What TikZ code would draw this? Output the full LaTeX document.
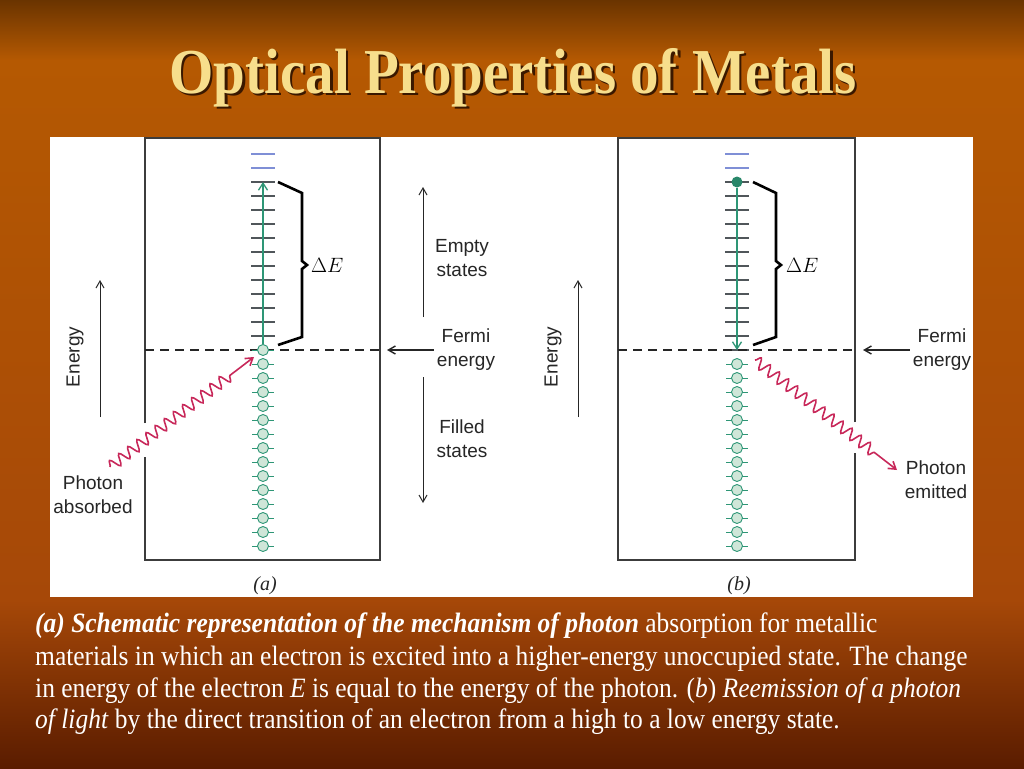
\documentclass[tikz,border=0pt]{standalone}
\usepackage{fontspec}
\setmainfont{Liberation Serif}
\setsansfont{Liberation Sans}
\newfontfamily\slidefont{Liberation Serif}[FakeStretch=0.91]
\newfontfamily\titlefont{Liberation Serif}[FakeStretch=0.89]
\usetikzlibrary{arrows.meta,decorations.pathmorphing}

\definecolor{bgtop}{HTML}{6A3400}
\definecolor{bgmid}{HTML}{B55902}
\definecolor{bglow}{HTML}{A64808}
\definecolor{bgbot}{HTML}{5A1C00}
\definecolor{titlecol}{HTML}{F7DE8C}
\definecolor{titleshadow}{HTML}{3A1800}
\definecolor{elgreen}{HTML}{2E9676}
\definecolor{elfill}{HTML}{CFE6D8}
\definecolor{levgray}{HTML}{50565A}
\definecolor{levblue}{HTML}{7F8FD6}
\definecolor{photcol}{HTML}{C8285A}
\definecolor{labcol}{HTML}{262626}

\tikzset{
  box/.style={draw=labcol!90, line width=1.4pt},
  fermi/.style={black!85, line width=1.2pt, dash pattern=on 9pt off 6pt},
  level/.style={levgray, line width=1.3pt},
  emptylevel/.style={levblue, line width=1.3pt},
  electron/.style={circle, draw=elgreen, fill=elfill, line width=0.9pt, minimum size=11pt},
  hotelectron/.style={circle, fill=elgreen!90!black, minimum size=11pt},
  transition/.style={elgreen, line width=1.3pt, -{Straight Barb[length=7pt,width=9pt]}},
  brace/.style={black, line width=2.6pt, line join=miter},
  axis/.style={labcol, line width=1pt, -{Straight Barb[length=7pt,width=8pt]}},
  photon/.style={photcol, line width=1.6pt, decorate,
    decoration={snake, amplitude=5.5pt, segment length=11.5pt, post length=28pt},
    -{Straight Barb[length=7pt,width=9pt]}},
  label/.style={text=labcol, font=\sffamily\fontsize{19}{24}\selectfont, align=center},
  caption/.style={text=white, font=\slidefont\fontsize{28}{32}\selectfont, anchor=base west}
}

\begin{document}
\begin{tikzpicture}[x=10pt,y=10pt]
\tikzstyle{every node}+=[inner sep=0pt]
\useasboundingbox (0,0) rectangle (102.4,-76.8);
% slide background
\shade[top color=bgtop, bottom color=bgmid] (0,0) rectangle (102.4,-6.0);
\shade[top color=bgmid, bottom color=bglow] (0,-6.0) rectangle (102.4,-60.0);
\shade[top color=bglow, bottom color=bgbot] (0,-60.0) rectangle (102.4,-76.8);
\node[text=titleshadow, font=\titlefont\bfseries\fontsize{64}{70}\selectfont, anchor=base] (titleshadow) at (51.55,-9.55) {Optical Properties of Metals};
\node[text=titlecol, font=\titlefont\bfseries\fontsize{64}{70}\selectfont, anchor=base] (title) at (51.3,-9.3) {Optical Properties of Metals};
\fill[white] (5.0,-13.7) rectangle (97.3,-59.7);

% panel (a)
\draw[box] (14.5,-42.3) -- (14.5,-13.8) -- (38.0,-13.8) -- (38.0,-56.0) -- (14.5,-56.0) -- (14.5,-45.7);
\foreach \k in {1,...,12} \draw[level] (25.1,{-35.0+1.4*\k}) -- (27.5,{-35.0+1.4*\k});
\foreach \k in {13,14} \draw[emptylevel] (25.1,{-35.0+1.4*\k}) -- (27.5,{-35.0+1.4*\k});
\coordinate (la12) at (26.3,-18.2);
\draw[fermi] (14.5,-35.0) -- (38.0,-35.0);
\foreach \k in {0,...,14} {
  \draw[elgreen, line width=0.9pt] (25.2,{-35.0-1.4*\k}) -- (27.4,{-35.0-1.4*\k});
  \node[electron] (ea\k) at (26.3,{-35.0-1.4*\k}) {};
}
\draw[transition] (ea0) -- (la12);
\draw[brace] (27.8,-18.2) -- (30.2,-19.3) -- (30.2,-26.1) -- (30.7,-26.5) -- (30.2,-26.9) -- (30.2,-33.7) -- (27.8,-34.5);
\node[anchor=west, font=\fontsize{20}{22}\selectfont] (dEa) at (31.1,-26.5) {$\Delta E$};
\coordinate (ena1) at (10.0,-41.7);
\coordinate (ena2) at (10.0,-28.0);
\draw[axis] (ena1) -- (ena2);
\node[label, rotate=90] (energya) at (7.5,-35.7) {Energy};
\node[label] (phabs) at (9.3,-49.5) {Photon\\absorbed};
\coordinate (pha1) at (11.0,-46.7);
\coordinate (pha2) at (25.4,-35.7);
\draw[photon] (pha1) -- (pha2);
\node[label] (empty) at (46.2,-25.8) {Empty\\states};
\node[label] (fermia) at (46.6,-35.0) {Fermi\\energy};
\node[label] (filled) at (46.2,-43.9) {Filled\\states};
\draw[axis] (42.3,-31.7) -- (42.3,-18.7);
\draw[axis] (42.3,-37.7) -- (42.3,-50.3);
\draw[axis, line width=1.4pt] (fermia.west) ++(-0.3,0) -- (38.7,-35.0);
\node[font=\itshape\fontsize{20}{24}\selectfont, text=labcol] (capa) at (26.5,-58.6) {(a)};

% panel (b)
\draw[box] (85.5,-42.2) -- (85.5,-13.8) -- (61.8,-13.8) -- (61.8,-56.0) -- (85.5,-56.0) -- (85.5,-45.3);
\foreach \k in {0,...,12} \draw[level] (72.5,{-35.0+1.4*\k}) -- (74.9,{-35.0+1.4*\k});
\foreach \k in {13,14} \draw[emptylevel] (72.5,{-35.0+1.4*\k}) -- (74.9,{-35.0+1.4*\k});
\coordinate (lb0) at (73.7,-35.0);
\draw[fermi] (61.8,-35.0) -- (85.5,-35.0);
\node[hotelectron] (hotb) at (73.7,-18.2) {};
\foreach \k in {1,...,14} {
  \draw[elgreen, line width=0.9pt] (72.6,{-35.0-1.4*\k}) -- (74.8,{-35.0-1.4*\k});
  \node[electron] (eb\k) at (73.7,{-35.0-1.4*\k}) {};
}
\draw[transition] (hotb) -- (lb0);
\draw[brace] (75.3,-18.2) -- (77.6,-19.3) -- (77.6,-26.1) -- (78.1,-26.5) -- (77.6,-26.9) -- (77.6,-33.7) -- (75.3,-34.5);
\node[anchor=west, font=\fontsize{20}{22}\selectfont] (dEb) at (78.6,-26.5) {$\Delta E$};
\coordinate (enb1) at (57.8,-41.7);
\coordinate (enb2) at (57.8,-28.0);
\draw[axis] (enb1) -- (enb2);
\node[label, rotate=90] (energyb) at (55.3,-35.7) {Energy};
\node[label] (fermib) at (94.2,-35.0) {Fermi\\energy};
\draw[axis, line width=1.4pt] (fermib.west) ++(-0.3,0) -- (86.3,-35.0);
\coordinate (phb1) at (75.5,-36.0);
\coordinate (phb2) at (89.7,-47.0);
\draw[photon] (phb1) -- (phb2);
\node[label] (phem) at (93.6,-48.0) {Photon\\emitted};
\node[font=\itshape\fontsize{20}{24}\selectfont, text=labcol] (capb) at (73.9,-58.6) {(b)};

% caption
\node[caption] (cap1) at (3.5,-63.2) {\textbf{\textit{(a) Schematic representation of the mechanism of photon}} absorption for metallic};
\node[caption] (cap2) at (3.5,-66.5) {materials in which an electron is excited into a higher-energy unoccupied state. The change};
\node[caption] (cap3) at (3.5,-69.7) {in energy of the electron \textit{E} is equal to the energy of the photon. (\textit{b}) \textit{Reemission of a photon}};
\node[caption] (cap4) at (3.5,-72.8) {\textit{of light} by the direct transition of an electron from a high to a low energy state.};
\end{tikzpicture}
\end{document}
